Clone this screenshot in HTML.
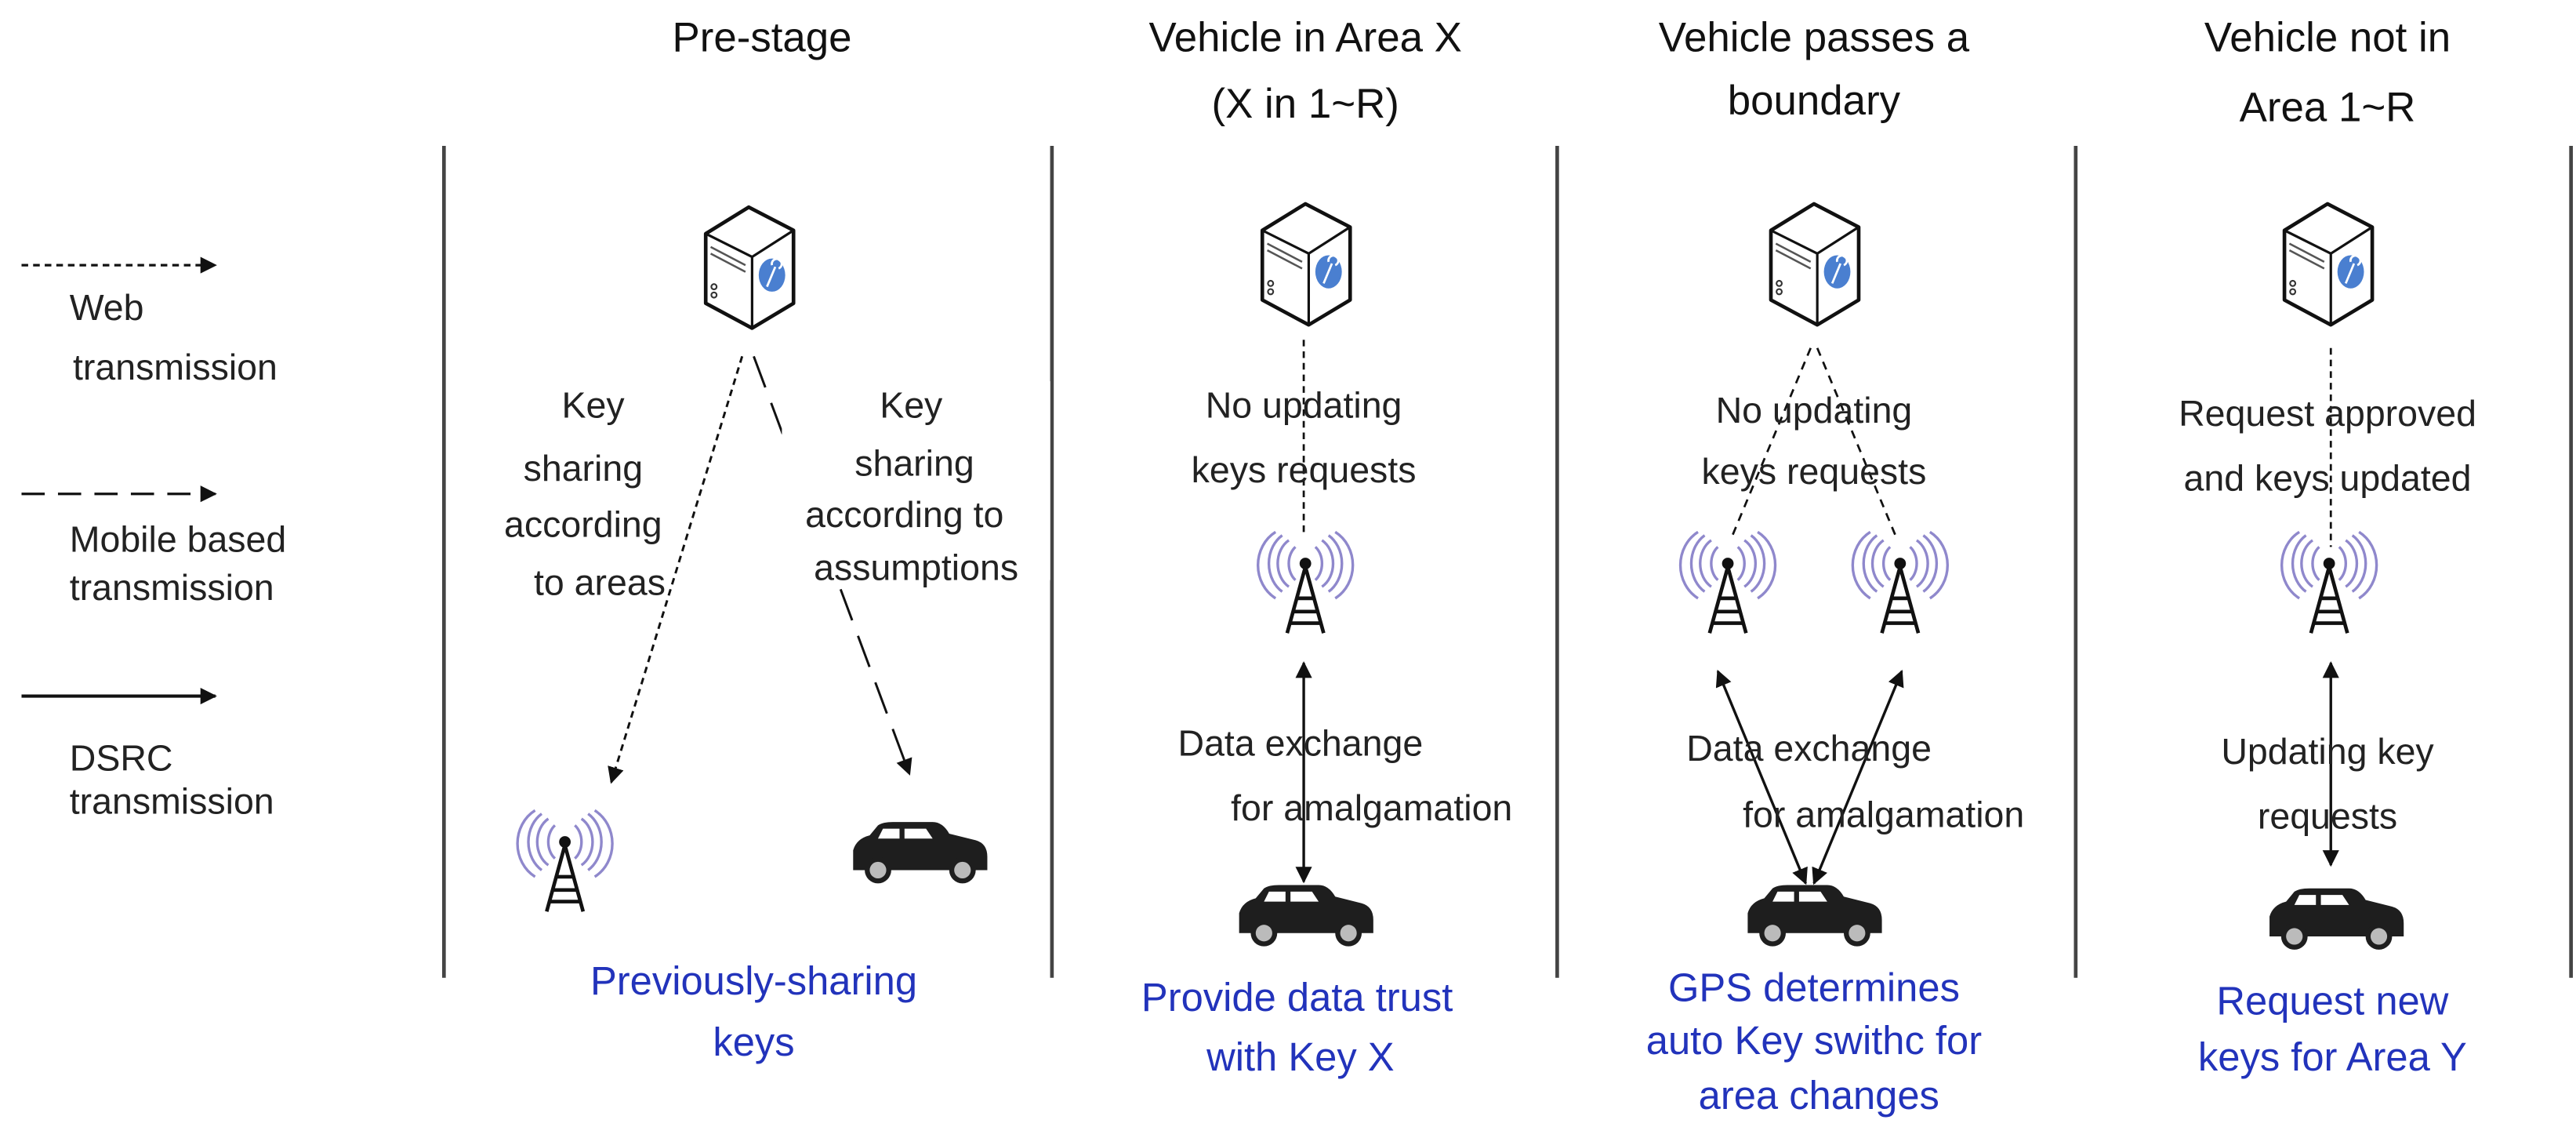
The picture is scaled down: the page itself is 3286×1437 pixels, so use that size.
<!DOCTYPE html>
<html><head><meta charset="utf-8"><style>
html,body{margin:0;padding:0;background:#fff;}
svg{display:block;}
text{font-family:"Liberation Sans","DejaVu Sans",sans-serif;}
.t{font-size:25px;fill:#111;text-anchor:middle;}
.l{font-size:22px;fill:#222;text-anchor:middle;}
.g{font-size:22px;fill:#222;}
.b{font-size:24px;fill:#2233bb;text-anchor:middle;}
</style></head><body>
<svg width="3286" height="1437" viewBox="0 0 1555 680" preserveAspectRatio="none" xmlns="http://www.w3.org/2000/svg">
<defs>
<marker id="ah" markerWidth="10" markerHeight="10" refX="9" refY="5" orient="auto" markerUnits="userSpaceOnUse"><path d="M0,0 L10,5 L0,10 z" fill="#111"/></marker>
<marker id="as" markerWidth="10" markerHeight="10" refX="1" refY="5" orient="auto" markerUnits="userSpaceOnUse"><path d="M10,0 L0,5 L10,10 z" fill="#111"/></marker>
<symbol id="srv" viewBox="-30 -37 60 74" overflow="visible">
<path d="M-26,-20 L0,-36 L27,-22 L27,22 L2,37 L-26,22 Z" fill="#fff" stroke="#111" stroke-width="2.2" stroke-linejoin="round"/>
<path d="M-26,-20 L2,-6 L27,-22 M2,-6 L2,37" fill="none" stroke="#111" stroke-width="1.5"/>
<path d="M-23,-12 L-2,-1 M-23,-8 L-2,3" stroke="#555" stroke-width="1.2"/>
<circle cx="-21" cy="12" r="1.6" fill="none" stroke="#333"/><circle cx="-21" cy="17" r="1.6" fill="none" stroke="#333"/>
<ellipse cx="14" cy="5" rx="8" ry="10" fill="#4a7fd0"/>
<path d="M11,12 L16,0 M14,-1 a3,3 0 1,1 4,2" stroke="#fff" stroke-width="1.3" fill="none"/>
</symbol>
<symbol id="twr" viewBox="-25 -32 50 64" overflow="visible">
<g fill="none" stroke="#8f88cc" stroke-width="1.6">
<path d="M-6,-22 a9,12 0 0,0 0,20"/><path d="M-10,-26 a13,16 0 0,0 0,28"/><path d="M-14,-29 a17,20 0 0,0 0,34"/><path d="M-18,-31 a21,23 0 0,0 0,40"/>
<path d="M6,-22 a9,12 0 0,1 0,20"/><path d="M10,-26 a13,16 0 0,1 0,28"/><path d="M14,-29 a17,20 0 0,1 0,34"/><path d="M18,-31 a21,23 0 0,1 0,40"/>
</g>
<circle cx="0" cy="-12" r="3.5" fill="#111"/>
<path d="M0,-10 L-11,30 M0,-10 L11,30 M-5,9 L5,9 M-7,17 L7,17 M-9,24 L9,24" stroke="#111" stroke-width="2.2" fill="none"/>
</symbol>
<symbol id="car" viewBox="-42 -18 84 36" overflow="visible">
<path d="M-40,8 L-40,-2 Q-38,-9 -30,-11 L-25,-17 Q-22,-19 -16,-19 L8,-19 Q14,-19 18,-12 L34,-8 Q41,-6 41,2 L41,10 L-40,10 Z" fill="#1e1e1e"/>
<path d="M-22,-15 L-12,-15 L-12,-9 L-25,-9 Z M-9,-15 L4,-15 L8,-9 L-9,-9 Z" fill="#fff"/>
<circle cx="-25" cy="10" r="8" fill="#1e1e1e"/><circle cx="-25" cy="10" r="5" fill="#bbb"/>
<circle cx="26" cy="10" r="8" fill="#1e1e1e"/><circle cx="26" cy="10" r="5" fill="#bbb"/>
</symbol>
</defs>

<!-- titles -->
<text class="t" x="460" y="31">Pre-stage</text>
<text class="t" x="788" y="31">Vehicle in Area  X</text>
<text class="t" x="788" y="71">(X in 1~R)</text>
<text class="t" x="1095" y="31">Vehicle passes a</text>
<text class="t" x="1095" y="69">boundary</text>
<text class="t" x="1405" y="31">Vehicle not in</text>
<text class="t" x="1405" y="73">Area 1~R</text>

<!-- dividers -->
<g stroke="#444" stroke-width="2.2">
<line x1="268" y1="88" x2="268" y2="590"/><line x1="635" y1="88" x2="635" y2="590"/>
<line x1="940" y1="88" x2="940" y2="590"/><line x1="1253" y1="88" x2="1253" y2="590"/>
<line x1="1552" y1="88" x2="1552" y2="590"/>
</g>

<!-- legend -->
<line x1="13" y1="160" x2="130" y2="160" stroke="#111" stroke-width="1.5" stroke-dasharray="4,3" marker-end="url(#ah)"/>
<text class="g" x="42" y="193">Web</text><text class="g" x="44" y="229">transmission</text>
<line x1="13" y1="298" x2="130" y2="298" stroke="#111" stroke-width="1.5" stroke-dasharray="14,8" marker-end="url(#ah)"/>
<text class="g" x="42" y="333">Mobile based</text><text class="g" x="42" y="362">transmission</text>
<line x1="13" y1="420" x2="130" y2="420" stroke="#111" stroke-width="2" marker-end="url(#ah)"/>
<text class="g" x="42" y="465">DSRC</text><text class="g" x="42" y="491">transmission</text>

<!-- servers -->
<use href="#srv" x="422" y="124" width="60" height="74"/>
<use href="#srv" x="758" y="122" width="60" height="74"/>
<use href="#srv" x="1065" y="122" width="60" height="74"/>
<use href="#srv" x="1375" y="122" width="60" height="74"/>

<!-- column 1 -->
<line x1="448" y1="215" x2="369" y2="472" stroke="#111" stroke-width="1.4" stroke-dasharray="4,3" marker-end="url(#ah)"/>
<line x1="455" y1="215" x2="549" y2="467" stroke="#111" stroke-width="1.4" stroke-dasharray="20,10" marker-end="url(#ah)"/>
<text class="l" x="358" y="252">Key</text><text class="l" x="352" y="290">sharing</text>
<text class="l" x="352" y="324">according</text><text class="l" x="362" y="359">to  areas</text>
<rect x="472" y="230" width="162" height="120" fill="#fff"/>
<text class="l" x="550" y="252">Key</text><text class="l" x="552" y="287">sharing</text>
<text class="l" x="546" y="318">according to</text><text class="l" x="553" y="350">assumptions</text>
<use href="#twr" x="316" y="488" width="50" height="64"/>
<use href="#car" x="513" y="497" width="84" height="36"/>
<text class="b" x="455" y="600">Previously-sharing</text><text class="b" x="455" y="637">keys</text>

<!-- column 2 -->
<line x1="787" y1="205" x2="787" y2="322" stroke="#111" stroke-width="1.3" stroke-dasharray="4,3"/>
<text class="l" x="787" y="252">No updating</text><text class="l" x="787" y="291">keys requests</text>
<use href="#twr" x="763" y="320" width="50" height="64"/>
<line x1="787" y1="400" x2="787" y2="532" stroke="#111" stroke-width="1.6" marker-start="url(#as)" marker-end="url(#ah)"/>
<rect x="690" y="432" width="190" height="26" fill="#fff" opacity="0.0"/>
<text class="l" x="785" y="456">Data exchange</text><text class="l" x="828" y="495">for amalgamation</text>
<use href="#car" x="746" y="535" width="84" height="36"/>
<text class="b" x="783" y="610">Provide data trust</text><text class="b" x="785" y="646">with Key X</text>

<!-- column 3 -->
<line x1="1093" y1="210" x2="1045" y2="325" stroke="#111" stroke-width="1.3" stroke-dasharray="5,4"/>
<line x1="1097" y1="210" x2="1145" y2="325" stroke="#111" stroke-width="1.3" stroke-dasharray="5,4"/>
<text class="l" x="1095" y="255">No updating</text><text class="l" x="1095" y="292">keys requests</text>
<use href="#twr" x="1018" y="320" width="50" height="64"/>
<use href="#twr" x="1122" y="320" width="50" height="64"/>
<line x1="1090" y1="533" x2="1037" y2="405" stroke="#111" stroke-width="1.6" marker-start="url(#as)" marker-end="url(#ah)"/>
<line x1="1095" y1="533" x2="1148" y2="405" stroke="#111" stroke-width="1.6" marker-start="url(#as)" marker-end="url(#ah)"/>
<text class="l" x="1092" y="459">Data exchange</text><text class="l" x="1137" y="499">for amalgamation</text>
<use href="#car" x="1053" y="535" width="84" height="36"/>
<text class="b" x="1095" y="604">GPS determines</text><text class="b" x="1095" y="636">auto Key swithc for</text><text class="b" x="1098" y="669">area changes</text>

<!-- column 4 -->
<line x1="1407" y1="210" x2="1407" y2="330" stroke="#111" stroke-width="1.3" stroke-dasharray="4,3"/>
<text class="l" x="1405" y="257">Request approved</text><text class="l" x="1405" y="296">and keys updated</text>
<use href="#twr" x="1381" y="320" width="50" height="64"/>
<line x1="1407" y1="400" x2="1407" y2="522" stroke="#111" stroke-width="1.6" marker-start="url(#as)" marker-end="url(#ah)"/>
<text class="l" x="1405" y="461">Updating key</text><text class="l" x="1405" y="500">requests</text>
<use href="#car" x="1368" y="537" width="84" height="36"/>
<text class="b" x="1408" y="612">Request new</text><text class="b" x="1408" y="646">keys for Area Y</text>
</svg>
</body></html>
